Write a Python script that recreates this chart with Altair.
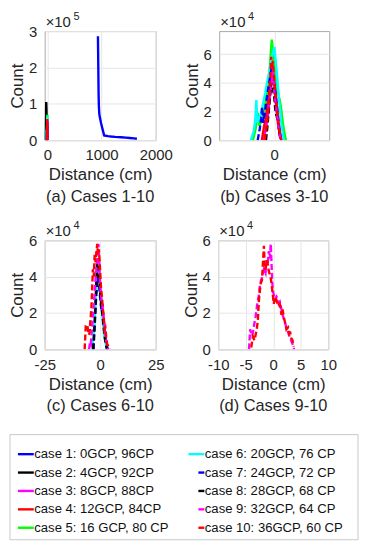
import altair as alt
import pandas as pd

FONT = "Liberation Sans"
TXT = "#262626"

# ---------------- data ----------------
# panel (a) Cases 1-10 (counts in units of 1e5)
a_x1 = [933, 936, 939, 942, 945, 950, 958, 972, 990, 1008, 1024, 1036, 1048, 1080, 1120, 1176, 1250, 1359, 1450, 1520, 1597, 1652]
a_y1 = [2.86, 2.5, 2.1, 1.7, 1.3, 0.95, 0.72, 0.6, 0.47, 0.36, 0.27, 0.2, 0.13, 0.12, 0.11, 0.10, 0.09, 0.08, 0.07, 0.06, 0.05, 0.04]
a_x2 = [-42, -36, -30, -26, -22, -18, -14, -10, -6]
a_y2 = [0, 0.3, 0.6, 0.85, 1.05, 0.9, 0.6, 0.3, 0]

# panel (b) Cases 3-10 (counts in units of 1e4)
b_x3 = [-8, -6, -4.5, -3, -2, -1, 0, 1, 2, 3, 4, 5.5]
b_y3 = [0, 0.8, 1.8, 3.2, 4.2, 4.8, 4.0, 2.8, 1.8, 1.0, 0.4, 0]
b_x4 = [-9, -7.5, -6, -5, -4, -3, -2.2, -1.5, -0.8, 0, 0.8, 1.6, 2.5, 3.3, 4.2, 5.2]
b_y4 = [0, 0.9, 1.6, 2.6, 3.5, 4.6, 5.4, 5.0, 5.6, 4.7, 3.6, 2.7, 1.9, 1.1, 0.5, 0]
b_x5 = [-15.5, -13.5, -11.9, -10.8, -10, -8.5, -7, -5.5, -4, -3, -2.4, -1.8, -1.0, 0, 1, 2, 3, 4, 4.9, 6, 7.2, 8.5]
b_y5 = [0, 0.8, 1.9, 1.0, 1.2, 1.4, 2.3, 3.2, 4.3, 5.3, 6.2, 7.0, 6.3, 5.4, 4.6, 3.8, 3.2, 2.8, 2.3, 1.4, 0.6, 0]
b_x6 = [-17, -15, -13.8, -13, -12.2, -11, -9.5, -8, -6.5, -5, -3.5, -2.5, -1.5, -0.5, 0.1, 1, 2, 3, 4, 5, 6, 7]
b_y6 = [0, 0.6, 1.4, 2.8, 1.2, 1.5, 1.9, 2.6, 3.3, 4.1, 4.8, 5.4, 5.9, 6.2, 6.5, 5.6, 4.6, 3.4, 2.3, 1.3, 0.6, 0]
b_x7 = [-12, -10.5, -9.5, -8.8, -8, -7, -6, -5, -4, -3, -2, -1, 0, 1, 2, 3, 4, 5]
b_y7 = [0, 0.8, 1.5, 2.3, 1.2, 1.8, 2.5, 3.2, 3.8, 4.4, 5.0, 4.6, 3.9, 3.2, 2.3, 1.4, 0.6, 0]
b_x8 = [-6, -5, -4, -3, -2, -1, 0, 0.6, 1.1, 2, 3, 3.8, 4.7]
b_y8 = [0, 0.9, 2.0, 3.1, 4.0, 3.6, 3.0, 2.3, 1.9, 1.6, 1.0, 0.4, 0]
b_x9 = [-7, -6, -5, -4, -3, -2, -1.5, -1, -0.5, 0, 1, 2, 3, 4, 5]
b_y9 = [0, 0.8, 1.6, 2.5, 3.6, 4.6, 5.2, 4.8, 4.2, 3.4, 2.6, 1.8, 1.0, 0.4, 0]
b_x10 = [-7, -6, -5, -4.2, -3.5, -2.8, -2.2, -1.6, -1, -0.4, 0.3, 1, 1.8, 2.6, 3.4, 4.2, 5]
b_y10 = [0, 0.7, 1.4, 2.4, 3.4, 4.4, 5.8, 5.0, 5.5, 4.7, 3.8, 3.0, 2.2, 1.5, 0.8, 0.3, 0]

# panel (c) Cases 6-10 (units of 1e4)
c_x6 = [-3.5, -2.5, -2, -1.5, -1, -0.5, 0, 0.5, 1, 1.5, 2, 2.5, 3]
c_y6 = [0, 1.5, 2.8, 3.8, 4.6, 4.2, 3.5, 2.6, 1.8, 1.0, 0.6, 0.3, 0]
c_x7 = [-3, -2.5, -2, -1.5, -1.2, -0.9, -0.5, 0, 0.5, 1, 1.5, 2, 2.5, 3, 3.5]
c_y7 = [0, 1.2, 2.5, 3.4, 4.2, 3.8, 3.5, 2.8, 2.2, 2.5, 1.6, 1.0, 0.5, 0.2, 0]
c_x8 = [-3.2, -2.7, -2.2, -1.8, -1.4, -1.1, -0.7, -0.3, 0.1, 0.5, 1.0, 1.5, 2.0, 2.5, 3.0]
c_y8 = [0, 1.0, 2.2, 3.6, 4.8, 5.0, 4.2, 3.6, 2.9, 2.4, 1.9, 1.3, 0.7, 0.3, 0]
c_x9 = [-5, -4.6, -4.2, -3.8, -3.3, -2.8, -2.3, -1.8, -1.4, -1.0, -0.8, -0.5, -0.2, 0.2, 0.6, 1.0, 1.5, 2.0, 2.5, 3.0, 3.4]
c_y9 = [0, 0.4, 0.3, 1.0, 1.8, 2.6, 3.5, 4.3, 5.0, 5.5, 5.8, 5.0, 4.0, 3.2, 2.7, 2.4, 1.8, 1.2, 0.6, 0.3, 0]
c_x10 = [-7.0, -6.5, -5.8, -5.2, -4.8, -4.4, -4.0, -3.6, -3.3, -2.9, -2.5, -2.1, -1.7, -1.3, -1.0, -0.6, -0.3, 0.1, 0.4, 0.8, 1.2, 1.6, 1.9, 2.3, 2.7, 3.1, 3.6, 4.2]
c_y10 = [0, 1.3, 1.35, 0.8, 0.9, 1.6, 2.2, 3.4, 4.4, 4.0, 5.2, 4.8, 5.4, 5.8, 5.2, 5.5, 4.9, 4.0, 3.3, 2.9, 2.2, 1.8, 1.1, 1.2, 0.7, 0.3, 0.2, 0]

# panel (d) Cases 9-10 (units of 1e4)
d_x9 = [-4.4, -4.2, -4.0, -3.8, -3.5, -3.2, -2.9, -2.6, -2.4, -2.1, -1.7, -1.4, -1.2, -1.0, -0.8, -0.6, -0.45, -0.3, -0.1, 0.1, 0.3, 0.6, 0.8, 1.0, 1.2, 1.5, 1.7, 2.0, 2.2, 2.5, 2.8, 3.1, 3.5, 3.8]
d_y9 = [0.0, 1.1, 0.9, 0.75, 1.3, 1.8, 2.5, 3.0, 3.6, 3.9, 4.4, 4.2, 4.9, 4.7, 5.4, 5.0, 5.8, 4.6, 3.3, 3.0, 2.7, 2.9, 2.8, 2.5, 2.6, 2.2, 1.9, 1.6, 1.4, 1.1, 0.85, 0.6, 0.3, 0.0]
d_x10 = [-4.0, -3.7, -3.4, -3.0, -2.8, -2.6, -2.3, -2.05, -1.9, -1.7, -1.5, -1.3, -1.1, -0.8, -0.5, -0.3, 0.1, 0.3, 0.6, 0.9, 1.2, 1.5, 1.7, 1.9, 2.2, 2.4, 2.7, 2.9, 3.1, 3.3, 3.5, 3.7]
d_y10 = [0.1, 0.7, 0.5, 1.1, 1.6, 2.7, 3.6, 3.8, 4.6, 5.7, 4.4, 4.6, 4.9, 4.3, 4.0, 3.6, 2.5, 2.9, 2.7, 2.4, 2.5, 1.9, 2.2, 1.8, 1.4, 1.1, 1.2, 0.85, 0.9, 0.6, 0.5, 0.15]

LEGEND_LABELS = [
    "case 1: 0GCP, 96CP", "case 2: 4GCP, 92CP", "case 3: 8GCP, 88CP",
    "case 4: 12GCP, 84CP", "case 5: 16 GCP, 80 CP", "case 6: 20GCP, 76 CP",
    "case 7: 24GCP, 72 CP", "case 8: 28GCP, 68 CP", "case 9: 32GCP, 64 CP",
    "case 10: 36GCP, 60 CP",
]
CASE_IDS = list(range(1, 11))

# ---------------- styles ----------------
COLORS = ["#0000ff", "#000000", "#ff00ff", "#ff0000", "#00ff00",
          "#00ffff", "#0000ff", "#000000", "#ff00ff", "#ff0000"]
DASHED = [False] * 6 + [True] * 4
H = 110


def panel(series, xdom, xticks, ymax, yticks, exp_digit, caption, width):
    layers = []
    for case, xs, ys in series:
        df = pd.DataFrame({"d": xs, "c": ys})
        kw = dict(color=COLORS[case - 1], strokeWidth=2.4, clip=True)
        if DASHED[case - 1]:
            kw["strokeDash"] = [6, 3]
        layers.append(
            alt.Chart(df).mark_line(**kw).encode(
                x=alt.X("d:Q", scale=alt.Scale(domain=xdom, nice=False, zero=False),
                        axis=alt.Axis(values=xticks, title="Distance (cm)",
                                      labelExpr="toString(datum.value)", labelFlush=False,
                                      labelPadding=8, titlePadding=4)),
                y=alt.Y("c:Q", scale=alt.Scale(domain=[0, ymax], nice=False),
                        axis=alt.Axis(values=yticks, title="Count",
                                      labelExpr="toString(datum.value)", labelFlush=False,
                                      labelPadding=8, titlePadding=2)),
            )
        )
    e1 = alt.Chart(pd.DataFrame({"t": ["×10"]})).mark_text(
        align="left", baseline="alphabetic", fontSize=15, font=FONT, color=TXT
    ).encode(x=alt.value(1), y=alt.value(-4), text="t:N")
    e2 = alt.Chart(pd.DataFrame({"t": [exp_digit]})).mark_text(
        align="left", baseline="alphabetic", fontSize=11, font=FONT, color=TXT
    ).encode(x=alt.value(29), y=alt.value(-11), text="t:N")
    return alt.layer(*layers, e1, e2).properties(
        width=width, height=H,
        title=alt.TitleParams(caption, orient="bottom", fontSize=16.5, font=FONT,
                              fontWeight="normal", color=TXT, offset=6, frame="group"),
    )


b_series = [(3, b_x3, b_y3), (4, b_x4, b_y4), (5, b_x5, b_y5), (6, b_x6, b_y6),
            (7, b_x7, b_y7), (8, b_x8, b_y8), (9, b_x9, b_y9), (10, b_x10, b_y10)]
a_series = [(1, a_x1, a_y1), (2, a_x2, a_y2)] + [
    (k, xs, [v / 10 for v in ys]) for k, xs, ys in b_series]
c_series = [(6, c_x6, c_y6), (7, c_x7, c_y7), (8, c_x8, c_y8), (9, c_x9, c_y9), (10, c_x10, c_y10)]
d_series = [(9, d_x9, d_y9), (10, d_x10, d_y10)]

pa = panel(a_series, [-50, 2000], [0, 1000, 2000], 3, [0, 1, 2, 3], "5", "(a) Cases 1-10", 112)
pb = panel(b_series, [-40, 40], [0], 7.6, [0, 2, 4, 6], "4", "(b) Cases 3-10", 111)
pc = panel(c_series, [-25, 25], [-25, 0, 25], 6, [0, 2, 4, 6], "4", "(c) Cases 6-10", 112)
pd_ = panel(d_series, [-10, 10], [-10, -5, 0, 5, 10], 6, [0, 2, 4, 6], "4", "(d) Cases 9-10", 111)

# ---------------- legend box ----------------
LW, LH = 316, 106
leg_df = pd.DataFrame({"label": LEGEND_LABELS, "case": CASE_IDS})
leg_base = alt.Chart(leg_df).transform_calculate(
    col="floor((datum.case - 1) / 5)", row="(datum.case - 1) % 5"
)
lx = alt.X("col:Q", scale=alt.Scale(domain=[0, LW / 172], nice=False, zero=False), axis=None)
ly = alt.Y("row:Q", scale=alt.Scale(domain=[-1.062, 4.652], reverse=True, nice=False, zero=False), axis=None)
lcolor = alt.Color("label:N", scale=alt.Scale(domain=LEGEND_LABELS, range=COLORS), legend=None)

box = alt.Chart(pd.DataFrame({"k": [0]})).mark_rect(
    fillOpacity=0, stroke="#c8c8c8", strokeWidth=1
).encode(x=alt.value(-35), x2=alt.value(LW), y=alt.value(0), y2=alt.value(LH))
solid = leg_base.transform_filter("datum.case <= 6").mark_rule(
    strokeWidth=2.4, xOffset=-27, x2Offset=-11
).encode(x=lx, x2="col:Q", y=ly, color=lcolor)
dashed = leg_base.transform_filter("datum.case > 6").mark_rule(
    strokeWidth=2.4, xOffset=-17, x2Offset=-11
).encode(x=lx, x2="col:Q", y=ly, color=lcolor)
texts = leg_base.mark_text(
    align="left", baseline="middle", dx=-10.5, fontSize=13.2, font=FONT, color="#111111"
).encode(x=lx, y=ly, text="label:N")
legend = alt.layer(box, solid, dashed, texts).properties(
    width=LW, height=LH, view=alt.ViewBackground(strokeOpacity=0)
)

row1 = alt.hconcat(pa, pb, spacing=9)
row2 = alt.hconcat(pc, pd_, spacing=17)
plots = alt.vconcat(row1, row2, spacing=14)

chart = alt.vconcat(plots, legend, spacing=19).properties(
    padding=0, background="white"
).configure_view(stroke="#a8a8a8", strokeWidth=1).configure_axis(
    labelFont=FONT, labelFontSize=15, labelColor=TXT,
    titleFont=FONT, titleFontSize=17, titleFontWeight="normal", titleColor=TXT,
    gridColor="#e6e6e6", domain=False, ticks=False,
)

chart.save("out.html", embed_options={"renderer": "svg", "actions": False})
